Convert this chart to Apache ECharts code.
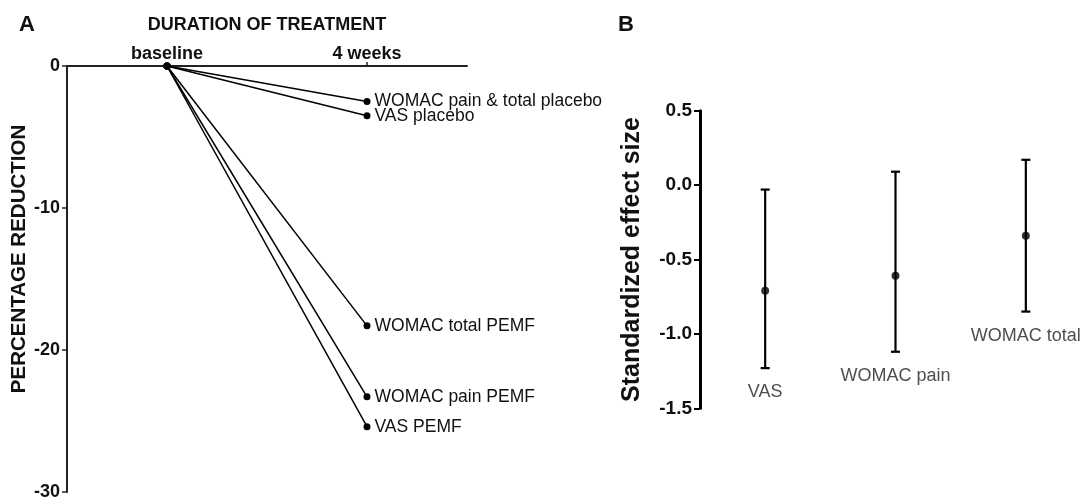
<!DOCTYPE html>
<html>
<head>
<meta charset="utf-8">
<script src="https://cdn.jsdelivr.net/npm/echarts@6/dist/echarts.min.js"></script>
<style>
html,body{margin:0;padding:0;background:#fff;}
#chart{width:1091px;height:501px;}
</style>
</head>
<body>
<div id="chart"></div>
<script>
// ---- Panel A data ----
const categoriesA = ['baseline', '4 weeks'];
const seriesNamesA = ['WOMAC pain & total placebo', 'VAS placebo', 'WOMAC total PEMF', 'WOMAC pain PEMF', 'VAS PEMF'];
const baselineValuesA = [0, 0, 0, 0, 0];
const week4ValuesA = [-2.5, -3.5, -18.3, -23.3, -25.4];
const yTicksA = [0, -10, -20, -30];

// ---- Panel B data ----
const categoriesB = ['VAS', 'WOMAC pain', 'WOMAC total'];
const effectMean = [-0.71, -0.61, -0.34];
const effectLow = [-1.23, -1.12, -0.85];
const effectHigh = [-0.03, 0.09, 0.17];
const yTicksB = [0.5, 0.0, -0.5, -1.0, -1.5];

const FONT = 'Liberation Sans, Arial, Helvetica, sans-serif';
const chart = echarts.init(document.getElementById('chart'), null, {renderer: 'canvas'});

const seriesA = seriesNamesA.map((name, i) => ({
  type: 'line',
  name: name,
  xAxisIndex: 0, yAxisIndex: 0,
  data: [baselineValuesA[i], week4ValuesA[i]],
  symbol: 'circle',
  symbolSize: 7,
  lineStyle: {color: '#000', width: 1.5},
  itemStyle: {color: '#000'},
  label: {
    show: true,
    position: 'right',
    distance: 4,
    color: '#111',
    fontFamily: FONT,
    fontSize: 17.5,
    formatter: p => p.dataIndex === 1 ? name : ''
  },
  silent: true,
  animation: false
}));

const errData = categoriesB.map((c, i) => [i, effectLow[i], effectHigh[i]]);

const option = {
  animation: false,
  backgroundColor: '#fff',
  textStyle: {fontFamily: FONT},
  title: [
    {text: 'A', left: 14, top: 9, textStyle: {fontFamily: FONT, fontSize: 22, fontWeight: 'bold', color: '#111'}},
    {text: 'B', left: 613, top: 9, textStyle: {fontFamily: FONT, fontSize: 22, fontWeight: 'bold', color: '#111'}}
  ],
  grid: [
    {left: 67, top: 66, width: 400, height: 431, containLabel: false},
    {left: 700, top: 110.7, width: 396, height: 297.6, containLabel: false}
  ],
  xAxis: [
    {
      gridIndex: 0,
      type: 'category',
      position: 'top',
      data: categoriesA,
      boundaryGap: true,
      name: 'DURATION OF TREATMENT',
      nameLocation: 'middle',
      nameGap: 32,
      nameTextStyle: {fontFamily: FONT, fontSize: 18, fontWeight: 'bold', color: '#111'},
      axisLine: {show: true, lineStyle: {color: '#222', width: 2}},
      axisTick: {show: true, alignWithLabel: true, length: 4, lineStyle: {color: '#222', width: 1.5}},
      axisLabel: {fontFamily: FONT, fontSize: 18, fontWeight: 'bold', color: '#111', margin: 3},
      splitLine: {show: false}
    },
    {
      gridIndex: 1,
      type: 'category',
      data: categoriesB,
      boundaryGap: true,
      axisLine: {show: false},
      axisTick: {show: false},
      axisLabel: {show: false},
      splitLine: {show: false}
    }
  ],
  yAxis: [
    {
      gridIndex: 0,
      type: 'value',
      min: -30, max: 0, interval: 10,
      name: 'PERCENTAGE REDUCTION',
      nameLocation: 'middle',
      nameRotate: 90,
      nameGap: 37,
      nameTextStyle: {fontFamily: FONT, fontSize: 20.5, fontWeight: 'bold', color: '#111',
        padding: [0, 0, 0, 40]},
      axisLine: {show: true, lineStyle: {color: '#222', width: 2}},
      axisTick: {show: true, length: 5, lineStyle: {color: '#222', width: 1.5}},
      axisLabel: {fontFamily: FONT, fontSize: 18, fontWeight: 'bold', color: '#111', margin: 7,
        customValues: yTicksA},
      splitLine: {show: false}
    },
    {
      gridIndex: 1,
      type: 'value',
      min: -1.5, max: 0.5, interval: 0.5,
      name: 'Standardized effect size',
      nameLocation: 'middle',
      nameRotate: 90,
      nameGap: 55,
      nameTextStyle: {fontFamily: FONT, fontSize: 25, fontWeight: 'bold', color: '#111'},
      axisLine: {show: true, lineStyle: {color: '#000', width: 3}},
      axisTick: {show: true, length: 6, lineStyle: {color: '#000', width: 2}},
      axisLabel: {fontFamily: FONT, fontSize: 19, fontWeight: 'bold', color: '#111', margin: 8,
        customValues: yTicksB, formatter: v => v.toFixed(1)},
      splitLine: {show: false}
    }
  ],
  series: seriesA.concat([
    {
      type: 'custom',
      xAxisIndex: 1, yAxisIndex: 1,
      data: errData,
      silent: true,
      renderItem: function (params, api) {
        const x = api.value(0);
        const lo = api.coord([x, api.value(1)]);
        const hi = api.coord([x, api.value(2)]);
        const cap = 4.5;
        const st = {stroke: '#000', lineWidth: 2.2};
        return {
          type: 'group',
          children: [
            {type: 'line', shape: {x1: lo[0], y1: lo[1], x2: hi[0], y2: hi[1]}, style: st},
            {type: 'line', shape: {x1: lo[0] - cap, y1: lo[1], x2: lo[0] + cap, y2: lo[1]}, style: st},
            {type: 'line', shape: {x1: hi[0] - cap, y1: hi[1], x2: hi[0] + cap, y2: hi[1]}, style: st}
          ]
        };
      }
    },
    {
      type: 'scatter',
      xAxisIndex: 1, yAxisIndex: 1,
      data: effectMean.map((v, i) => [i, v]),
      symbol: 'circle',
      symbolSize: 8,
      itemStyle: {color: '#000'},
      silent: true
    },
    {
      type: 'scatter',
      xAxisIndex: 1, yAxisIndex: 1,
      data: effectLow.map((v, i) => [i, v]),
      symbolSize: 0,
      itemStyle: {color: 'transparent'},
      label: {
        show: true,
        position: 'bottom',
        distance: 15,
        color: '#222',
        fontFamily: FONT,
        fontSize: 18,
        formatter: p => categoriesB[p.dataIndex]
      },
      silent: true
    }
  ])
};

chart.setOption(option);
</script>
</body>
</html>
